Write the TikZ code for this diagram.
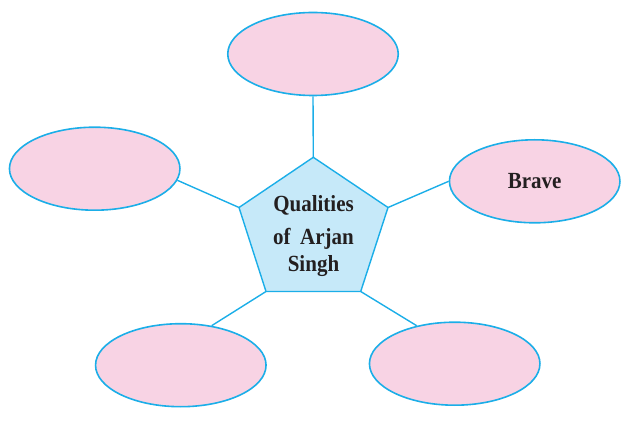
\documentclass[tikz,border=0pt]{standalone}
\usepackage{fontspec}
\usepackage{graphicx}
\setmainfont{Liberation Serif}
\usetikzlibrary{shapes.geometric}
\definecolor{bubblepink}{HTML}{F8D3E4}
\definecolor{edgeblue}{HTML}{1BAEE8}
\definecolor{penta}{HTML}{C6E9F9}
\definecolor{inkdark}{HTML}{231F20}
\newcommand{\tallbold}[1]{\scalebox{1}[1.1]{#1}}
\tikzset{
  bubble/.style={ellipse, draw=edgeblue, fill=bubblepink, line width=1.6pt,
    minimum width=170.5pt, minimum height=83pt, inner sep=0pt},
  link/.style={draw=edgeblue, line width=1.4pt},
  lbl/.style={font=\fontsize{21}{24}\selectfont\bfseries, text=inkdark, anchor=base, inner sep=0pt}
}
\begin{document}
\begin{tikzpicture}[x=1pt,y=-1pt]
\useasboundingbox (0,0) rectangle (629,427);
% pentagon vertices
\coordinate (pt) at (313.3,157.3);
\coordinate (pul) at (239,207.5);
\coordinate (pur) at (388,207.5);
\coordinate (pll) at (266,291.5);
\coordinate (plr) at (360.7,291.5);
\filldraw[fill=penta, draw=edgeblue, line width=1.4pt, line join=miter]
  (pt) -- (pur) -- (plr) -- (pll) -- (pul) -- cycle;
% bubbles
\node[bubble] (top) at (313,54) {};
\node[bubble] (left) at (94.7,168.7) {};
\node[bubble] (right) at (534.7,181.3) {};
\node[bubble] (bl) at (180.8,365.2) {};
\node[bubble] (br) at (454.7,363.7) {};
% connectors
\draw[link] (top.south) -- (pt);
\draw[link] (left.-8.5) -- (pul);
\draw[link] (right.180) -- (pur);
\draw[link] (bl.52.5) -- (pll);
\draw[link] (br.135.5) -- (plr);
% texts
\node[lbl] (t1) at (313.5,211.5) {\tallbold{Qualities}};
\node[lbl] (t2) at (313.5,245) {\tallbold{of\hspace{0.45em}Arjan}};
\node[lbl] (t3) at (313.5,271.5) {\tallbold{Singh}};
\node[lbl] (t4) at (534.7,189) {\tallbold{Brave}};
\end{tikzpicture}
\end{document}
